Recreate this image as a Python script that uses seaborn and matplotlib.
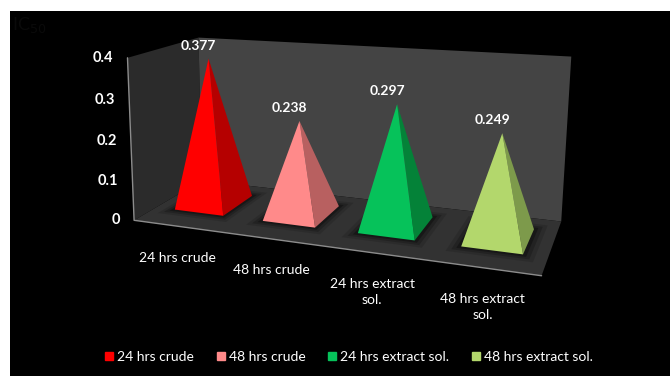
import numpy as np
import matplotlib
matplotlib.use("Agg")
import matplotlib.pyplot as plt
from matplotlib.patches import Polygon
import seaborn as sns

categories = ["24 hrs crude", "48 hrs crude", "24 hrs extract sol.", "48 hrs extract sol."]
axis_labels = ["24 hrs crude", "48 hrs crude", "24 hrs extract\nsol.", "48 hrs extract\nsol."]
values = [0.377, 0.238, 0.297, 0.249]
value_labels = ["0.377", "0.238", "0.297", "0.249"]
y_ticks = [0, 0.1, 0.2, 0.3, 0.4]
y_ticklabels = ["0", "0.1", "0.2", "0.3", "0.4"]
front_colors = ["#ff0000", "#ff8a8a", "#06c25a", "#b3d76c"]
side_colors = ["#b50000", "#b86060", "#048238", "#7d9a4b"]

sns.set_theme(style="white")
plt.rcParams["font.family"] = ["Lato", "DejaVu Sans"]

fig = plt.figure(figsize=(6.7, 3.76), dpi=100, facecolor="white")

# hidden seaborn value axes: bars give category positions and heights
ax_data = fig.add_axes([0, 0, 1, 1])
sns.barplot(x=categories, y=values, ax=ax_data, width=0.56, color="k", order=categories)
bars = [(p.get_x(), p.get_x() + p.get_width(), p.get_height()) for p in ax_data.patches]
ax_data.set_visible(False)

# projection of the 3D chart box (category u, value v, depth w) to picture pixels
calib = [((0, 0, 0), (136, 220)), ((4, 0, 0), (541, 277)), ((4, 0, 1), (562, 220)),
         ((0, 0, 1), (200, 181)), ((0, .4, 0), (126, 57)), ((0, .4, 1), (200, 38)),
         ((4, .4, 1), (571, 57))]
A = []
for (u, v, w), (x, y) in calib:
    A.append([u, v, w, 1, 0, 0, 0, 0, -x*u, -x*v, -x*w, -x])
    A.append([0, 0, 0, 0, u, v, w, 1, -y*u, -y*v, -y*w, -y])
P = np.linalg.svd(np.array(A, float))[2][-1].reshape(3, 4)

def proj(u, v, w):
    q = P @ np.array([u, v, w, 1.0])
    return q[0] / q[2], q[1] / q[2]

ax = fig.add_axes([0, 0, 1, 1])
ax.set_xlim(0, 670)
ax.set_ylim(376, 0)
ax.axis("off")
ax.add_patch(Polygon([(10, 11), (670, 11), (670, 376), (10, 376)], color="black", lw=0))

# walls and floor
ax.add_patch(Polygon([proj(0, 0, 0), proj(0, .4, 0), proj(0, .4, 1), proj(0, 0, 1)], color="#2b2b2b", lw=0))
ax.add_patch(Polygon([proj(0, 0, 1), proj(0, .4, 1), proj(4, .4, 1), proj(4, 0, 1)], color="#444444", lw=0))
ax.add_patch(Polygon([proj(0, 0, 0), proj(0, 0, 1), proj(4, 0, 1), proj(4, 0, 0)], color="#323232", lw=0))
ax.plot(*zip(proj(0, .4, 0), proj(0, 0, 0), proj(4, 0, 0)), color="#8c8c8c", lw=1)

W0, W1 = 0.30, 0.78
for i, (u0, u1, h) in enumerate(bars):
    a, b = u0 + 0.5, u1 + 0.5
    uc = (a + b) / 2
    # soft base shadow
    for grow, alpha in [(0.11, .12), (0.07, .2), (0.035, .3)]:
        ax.add_patch(Polygon([proj(a - grow, 0, W0 - grow), proj(b + grow, 0, W0 - grow),
                              proj(b + grow, 0, W1 + grow), proj(a - grow, 0, W1 + grow)],
                             color="black", alpha=alpha, lw=0))
    apex = proj(uc, h, 0.5)
    fl, fr, br = proj(a, 0, W0), proj(b, 0, W0), proj(b, 0, W1)
    ax.add_patch(Polygon([apex, fr, br], color=side_colors[i], lw=0))
    ax.add_patch(Polygon([apex, fl, fr], color=front_colors[i], lw=0))
    ax.text(apex[0] - 10, apex[1] - 13, value_labels[i], color="white", fontsize=10,
            fontweight="bold", ha="center", va="center")
    ex, ey = proj(uc, 0, 0)
    ax.text(ex, ey + 25.5, axis_labels[i], color="white", fontsize=10, ha="center", va="top",
            linespacing=1.35)

for t, lab in zip(y_ticks, y_ticklabels):
    x, y = proj(0, t, 0)
    ax.text(x - 14, y, lab, color="white", fontsize=10.5, fontweight="bold", ha="right", va="center")

ax.text(12, 25, "IC$_{50}$", color="#0a0a0a", fontsize=13, ha="left", va="center")

handles = [plt.Line2D([], [], marker="s", ls="", ms=5.5, color=c) for c in front_colors]
fig.legend(handles, categories, loc="center", bbox_to_anchor=(347.5 / 670, 1 - 357 / 376), ncol=4,
           frameon=False, fontsize=10, labelcolor="white", handletextpad=0.1, columnspacing=1.4,
           handlelength=1)

fig.savefig("out.png", dpi=100, facecolor="white")
